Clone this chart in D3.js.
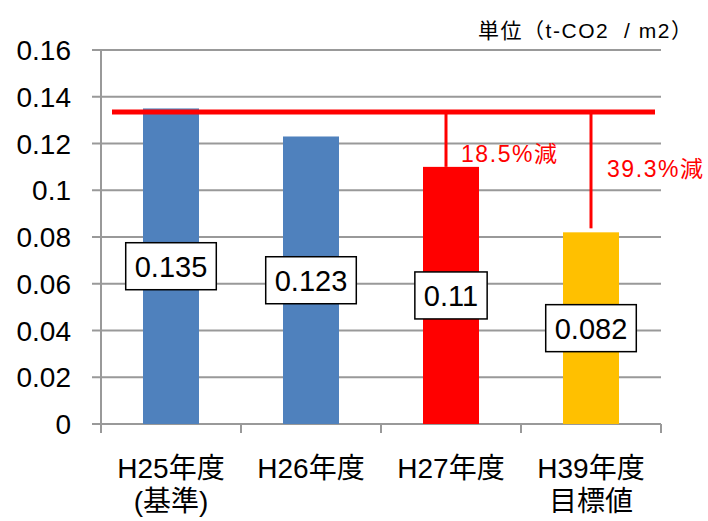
<!DOCTYPE html>
<meta charset="utf-8">
<style>
  body { margin: 0; background: #fff; }
  text { font-family: "Liberation Sans", "Noto Sans CJK JP", sans-serif; }
</style>
<svg width="708" height="521"></svg>
<script src="https://d3js.org/d3.v7.min.js"></script>
<script>
    // values
    var years = ["H25年度", "H26年度", "H27年度", "H39年度"],
        subLabels = ["(基準)", "", "", "目標値"],
        values = [0.135, 0.123, 0.11, 0.082],
        colors = ["#4F81BD", "#4F81BD", "#FF0000", "#FFC000"],
        yTicks = [0, 0.02, 0.04, 0.06, 0.08, 0.1, 0.12, 0.14, 0.16],
        baseLine = 0.1335,
        cuts = [[2, "18.5%減"], [3, "39.3%減"]],
        unitLabel = "単位（t-CO2  / m2）";

    var svg = d3.select("svg");
    var x0 = 101, x1 = 661, y0 = 424, y1 = 50;

    var x = d3.scaleBand()
        .domain(years)
        .range([x0, x1])
        .paddingInner(0.6)
        .paddingOuter(0.3);
    var y = d3.scaleLinear()
        .domain([0, 0.16])
        .range([y0, y1]);

    // grid
    svg.append("g").selectAll("line")
        .data(yTicks)
        .enter().append("line")
        .attr("x1", x0 - 9)
        .attr("x2", x1)
        .attr("y1", function(d) { return y(d); })
        .attr("y2", function(d) { return y(d); })
        .attr("stroke", "#999")
        .attr("stroke-width", 2);

    svg.append("g").selectAll("text")
        .data(yTicks)
        .enter().append("text")
        .attr("x", 71)
        .attr("y", function(d) { return y(d); })
        .attr("dy", "0.36em")
        .attr("text-anchor", "end")
        .style("font-size", "28px")
        .text(function(d) { return d3.format("~g")(d); });

    // axes
    svg.append("line")
        .attr("x1", x0).attr("x2", x0)
        .attr("y1", y1).attr("y2", y0)
        .attr("stroke", "#999").attr("stroke-width", 2);
    var xEdges = years.map(function(d) { return x(d) - x.step() * 0.3; }).concat([x1]);
    svg.append("g").selectAll("line")
        .data(xEdges)
        .enter().append("line")
        .attr("x1", function(d) { return d; })
        .attr("x2", function(d) { return d; })
        .attr("y1", y0)
        .attr("y2", y0 + 9)
        .attr("stroke", "#999").attr("stroke-width", 2);

    // bars
    svg.append("g").selectAll("rect")
        .data(values)
        .enter().append("rect")
        .attr("x", function(d, i) { return x(years[i]); })
        .attr("y", function(d) { return y(d); })
        .attr("width", x.bandwidth())
        .attr("height", function(d) { return y0 - y(d); })
        .attr("fill", function(d, i) { return colors[i]; });

    // reference line + drops
    svg.append("line")
        .attr("x1", 112).attr("x2", 655)
        .attr("y1", y(baseLine)).attr("y2", y(baseLine))
        .attr("stroke", "#FF0000").attr("stroke-width", 5);

    var cx = function(i) { return x(years[i]) + x.bandwidth() / 2; };
    var dropDx = [-5, 0], txtDx = [10, 16], txtBase = [162, 177];
    cuts.forEach(function(c, k) {
        var i = c[0];
        svg.append("line")
            .attr("x1", cx(i) + dropDx[k]).attr("x2", cx(i) + dropDx[k])
            .attr("y1", y(baseLine)).attr("y2", y(values[i]) - (k ? 4 : 0))
            .attr("stroke", "#FF0000").attr("stroke-width", 3);
        svg.append("text")
            .attr("x", cx(i) + txtDx[k])
            .attr("y", txtBase[k])
            .attr("fill", "#FF0000")
            .attr("textLength", 96)
            .attr("lengthAdjust", "spacing")
            .style("font-size", "23px")
            .text(c[1]);
    });

    // value labels
    var lab = svg.append("g").selectAll("g")
        .data(values)
        .enter().append("g")
        .attr("transform", function(d, i) {
            return "translate(" + cx(i) + "," + (y(d) + y0) / 2 + ")";
        });
    lab.append("rect");
    lab.append("text")
        .attr("text-anchor", "middle")
        .attr("dy", "0.36em")
        .style("font-size", "29px")
        .text(function(d) { return d; });
    lab.each(function() {
        var g = d3.select(this);
        var w = g.select("text").node().getComputedTextLength() + 18;
        g.select("rect")
            .attr("x", -w / 2).attr("y", -23.5)
            .attr("width", w).attr("height", 47)
            .attr("fill", "#fff")
            .attr("stroke", "#000")
            .attr("stroke-width", 1.5);
    });

    // category labels
    var cat = svg.append("g").selectAll("text")
        .data(years)
        .enter().append("text")
        .attr("text-anchor", "middle")
        .style("font-size", "28px")
        .attr("x", function(d, i) { return cx(i); })
        .attr("y", 478);
    cat.append("tspan").text(function(d) { return d; });
    cat.append("tspan")
        .attr("x", function(d, i) { return cx(i); })
        .attr("y", 511)
        .text(function(d, i) { return subLabels[i]; });

    svg.append("text")
        .attr("x", 478)
        .attr("y", 38)
        .attr("xml:space", "preserve")
        .attr("textLength", 214)
        .attr("lengthAdjust", "spacing")
        .style("white-space", "pre")
        .style("font-size", "21px")
        .text(unitLabel);
</script>
